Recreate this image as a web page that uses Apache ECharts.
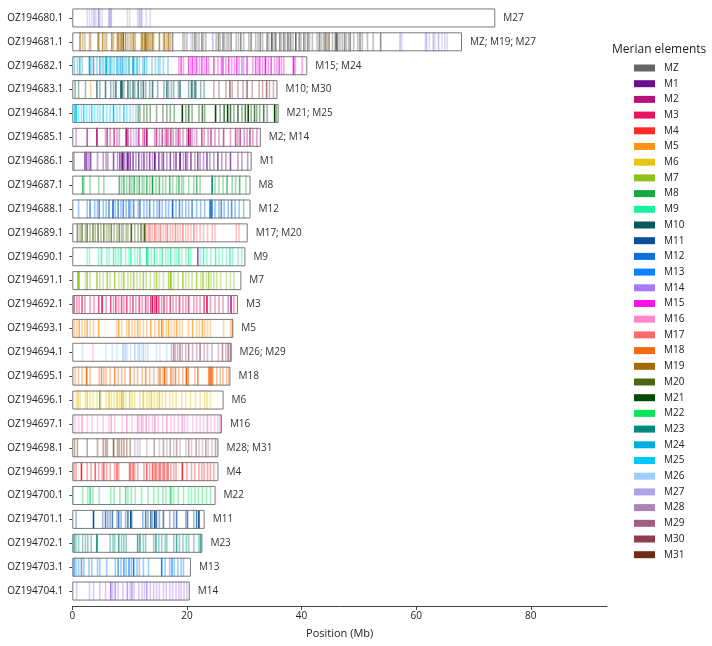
<!DOCTYPE html>
<html>
<head>
<meta charset="utf-8" />
<title>Merian elements</title>
<script src="https://cdn.jsdelivr.net/npm/echarts@6/dist/echarts.min.js"></script>
<style>
  html, body { margin: 0; padding: 0; background: #fff; }
  #main { width: 712px; height: 646px; }
</style>
</head>
<body>
<div id="main"></div>
<script type="text/javascript">
// chromosomes, top to bottom
var chromNames = ['OZ194680.1','OZ194681.1','OZ194682.1','OZ194683.1','OZ194684.1','OZ194685.1',
  'OZ194686.1','OZ194687.1','OZ194688.1','OZ194689.1','OZ194690.1','OZ194691.1','OZ194692.1',
  'OZ194693.1','OZ194694.1','OZ194695.1','OZ194696.1','OZ194697.1','OZ194698.1','OZ194699.1',
  'OZ194700.1','OZ194701.1','OZ194702.1','OZ194703.1','OZ194704.1'];
var chromLengths = [73.8, 68.0, 41.0, 35.8, 36.0, 32.9, 31.3, 31.1, 31.1, 30.6, 30.2, 29.5, 28.9,
  28.1, 27.8, 27.6, 26.4, 26.1, 25.5, 25.5, 25.0, 23.1, 22.7, 20.7, 20.5];
var chromLabels = ['M27','MZ; M19; M27','M15; M24','M10; M30','M21; M25','M2; M14','M1','M8','M12',
  'M17; M20','M9','M7','M3','M5','M26; M29','M18','M6','M16','M28; M31','M4','M22','M11','M23','M13','M14'];

var elements = ['MZ','M1','M2','M3','M4','M5','M6','M7','M8','M9','M10','M11','M12','M13','M14','M15',
  'M16','M17','M18','M19','M20','M21','M22','M23','M24','M25','M26','M27','M28','M29','M30','M31'];
var elementColors = ['#666666','#6a0f8e','#b5127e','#e6135f','#ff2a2a','#ff9419','#e6c619','#8ec21a',
  '#16a940','#1af2a0','#07595e','#0b4f99','#0d6ee0','#0f80ff','#a778f7','#fd12e7','#ff88cc','#ff6b6b',
  '#f46a12','#a26b05','#4e6611','#054a03','#0de25c','#008a7e','#00aee0','#00c8ff','#a0cdff','#a9a5e7',
  '#ab84b7','#a05f82','#8e3d4b','#6e2e16'];

// gene positions (Mb) with a shade level 1..3, per chromosome and element
var OZ194680_1 = [
  ['M27', [[2.6,1],[3.0,1],[3.4,1],[3.8,2],[4.1,1],[4.6,3],[4.8,1],[5.2,1],[6.4,2],[6.6,2],[6.8,2],
    [9.6,1],[10.0,1],[11.4,1],[11.7,2],[12.0,2],[12.2,1],[12.9,1],[13.6,1]]]
];
var OZ194681_1 = [
  ['M19', [[1.35,2],[1.8,1],[2.2,1],[3.0,1],[3.2,1],[4.5,2],[4.7,1],[5.3,2],[5.7,1],[6.0,1],[6.9,2],
    [7.2,1],[7.8,1],[8.0,2],[8.2,1],[8.5,2],[8.7,1],[8.9,3],[9.3,2],[9.7,1],[10.1,1],[10.4,1],[10.7,2],
    [11.0,1],[12.0,1],[12.2,2],[12.4,1],[12.7,3],[12.9,2],[13.2,2],[13.5,1],[13.7,1],[14.0,2],[14.2,1],
    [15.2,2],[15.9,1],[16.1,2],[16.5,1],[16.8,2],[17.1,1],[44.3,1]]],
  ['MZ', [[17.5,2],[19.3,1],[19.6,1],[20.0,1],[21.0,1],[21.4,2],[21.7,1],[22.1,1],[22.6,2],[22.9,1],
    [23.3,1],[25.1,1],[25.5,2],[25.8,1],[26.3,2],[26.6,1],[27.0,1],[27.3,1],[27.7,2],[28.6,1],[29.0,1],
    [29.4,2],[29.9,1],[30.8,1],[31.2,2],[32.0,1],[32.4,1],[32.8,2],[33.2,1],[34.0,2],[34.3,1],[34.8,3],
    [35.0,1],[35.4,2],[35.6,1],[36.2,2],[36.5,1],[36.9,2],[37.2,1],[37.6,2],[37.8,1],[38.1,2],[38.5,1],
    [39.0,3],[39.6,2],[39.9,1],[40.4,2],[40.7,1],[41.1,2],[41.4,1],[41.9,1],[42.7,1],[43.1,2],[43.4,1],
    [43.8,1],[44.1,2],[44.5,1],[44.8,2],[45.4,1],[45.9,2],[46.1,3],[46.3,2],[46.7,1],[47.1,1],[47.5,2],
    [47.8,1],[48.2,1],[48.5,2],[49.1,1],[49.8,1],[50.2,2],[50.6,1],[51.5,1],[52.5,1],[53.8,2]]],
  ['M27', [[20.7,1],[24.5,2],[57.2,2],[57.5,1],[61.6,1],[61.8,2],[62.3,1],[63.0,2],[63.3,1],[63.9,2],
    [64.5,1],[65.0,1],[65.4,1]]]
];
var OZ194682_1 = [
  ['M24', [[0.4,1],[0.9,1],[1.3,2],[1.7,1],[3.0,3],[3.3,1],[4.3,1],[4.8,2],[5.2,1],[5.5,1],[5.9,3],
    [6.2,1],[6.6,2],[6.9,1],[7.3,1],[7.8,2],[8.1,1],[8.5,1],[8.8,2],[9.2,1],[9.5,1],[9.9,2],[10.6,3],
    [10.9,1],[11.3,2],[11.7,1],[12.3,1],[12.6,2],[13.0,1],[13.9,1],[14.5,1],[15.0,1],[15.3,1],[15.9,1],[16.7,1]]],
  ['M13', [[3.7,2],[8.4,1]]],
  ['M15', [[18.6,1],[19.0,2],[19.4,1],[20.3,2],[20.7,1],[21.0,2],[21.4,1],[21.7,2],[22.2,1],[22.6,2],
    [23.0,1],[23.4,2],[23.8,1],[24.7,2],[25.4,1],[26.0,1],[26.3,2],[26.8,1],[27.3,2],[27.8,1],[28.3,1],
    [28.7,2],[29.1,1],[29.9,1],[30.5,2],[31.5,1],[32.0,2],[32.4,1],[32.7,2],[33.2,1],[33.7,3],[34.2,1],
    [34.7,2],[35.3,1],[35.7,1],[36.1,2],[36.5,1],[36.9,1],[38.6,3],[38.9,1],[40.1,1]]],
  ['M14', [[29.6,2],[26.1,1]]]
];
var OZ194683_1 = [
  ['M10', [[1.1,1],[2.3,1],[4.3,2],[4.8,1],[5.8,2],[6.7,1],[7.2,1],[7.6,2],[8.5,3],[8.7,2],[9.0,1],
    [9.7,2],[10.1,1],[10.6,2],[10.9,1],[11.5,2],[12.0,1],[12.4,2],[12.8,1],[13.5,1],[14.0,2],[14.9,1],
    [16.0,1],[16.5,2],[16.8,1],[17.3,1],[17.7,1],[18.5,1],[18.8,2],[20.3,1],[20.8,2],[21.0,1],[21.4,2],
    [21.6,1],[22.4,1],[23.0,1]]],
  ['M21', [[0.5,1]]],
  ['M5', [[3.2,1]]],
  ['M30', [[24.7,1],[25.6,1],[26.8,1],[27.5,2],[27.9,1],[28.9,1],[29.8,1],[30.5,2],[31.4,1],[32.6,1],
    [33.2,1],[33.9,2],[34.4,1],[35.1,1]]]
];
var OZ194684_1 = [
  ['M25', [[0.4,2],[0.65,3],[1.1,1],[1.6,1],[2.0,2],[2.5,1],[3.0,1],[3.4,2],[3.9,1],[4.4,1],[4.8,1],
    [5.4,2],[6.0,1],[6.6,1],[7.2,3],[7.8,1],[8.3,1],[9.0,2],[9.5,1],[10.1,1],[11.1,1]]],
  ['M16', [[10.6,1]]],
  ['M21', [[11.5,1],[11.8,1],[12.5,1],[13.0,1],[13.6,1],[14.7,1],[15.8,1],[16.5,1],[17.1,1],[17.8,1],
    [19.2,3],[19.8,1],[20.3,2],[20.9,1],[22.1,1],[22.7,2],[23.1,1],[25.0,3],[25.8,1],[26.5,2],[27.1,3],
    [27.6,2],[28.2,1],[28.9,2],[29.6,1],[30.2,2],[30.7,3],[31.2,1],[31.8,2],[32.2,1],[32.7,1],[33.4,2],
    [34.0,1],[35.3,3],[35.6,1]]]
];
var OZ194685_1 = [
  ['M2', [[0.65,1],[2.6,2],[4.3,3],[5.8,1],[6.1,2],[6.6,1],[7.3,2],[7.8,1],[8.2,1],[9.4,3],[9.7,2],
    [10.2,1],[11.6,2],[12.3,1],[12.6,2],[13.0,3],[14.4,1],[14.7,2],[15.2,1],[15.7,2],[16.2,1],[16.5,2],
    [16.8,1],[17.2,2],[17.6,1],[18.1,1],[18.5,2],[18.8,1],[19.3,1],[20.0,1],[20.3,3],[20.6,2],[20.9,1],
    [21.7,1],[22.6,2],[23.0,1],[23.7,1],[24.2,2],[24.9,1],[25.6,1],[26.4,2],[27.6,1],[28.5,2],[28.9,1],
    [29.3,2],[30.0,1],[30.5,1],[31.0,2],[31.5,1],[32.2,1]]],
  ['M14', [[10.7,1],[11.1,1],[11.3,1],[21.3,1]]]
];
var OZ194686_1 = [
  ['M1', [[0.3,1],[2.2,2],[2.5,2],[2.9,1],[3.2,2],[4.4,1],[5.4,1],[5.9,1],[6.2,1],[7.2,2],[7.9,1],
    [8.3,2],[8.7,3],[9.0,2],[9.4,1],[9.7,3],[10.1,2],[10.6,2],[11.1,1],[11.6,2],[12.1,1],[12.5,2],
    [13.0,1],[13.5,2],[14.0,1],[14.4,3],[15.1,2],[15.6,1],[15.9,2],[16.5,1],[17.1,2],[17.7,1],[18.1,2],
    [18.8,3],[19.4,1],[19.8,2],[20.1,1],[20.7,2],[21.4,1],[21.9,2],[22.3,1],[22.9,1],[23.5,2],[24.0,1],
    [24.7,1],[25.4,2],[26.1,1],[26.8,1],[27.6,2],[28.9,1],[29.6,1],[30.6,1]]]
];
var OZ194687_1 = [
  ['M8', [[1.8,2],[2.0,1],[3.1,1],[4.6,1],[5.5,1],[8.2,2],[8.6,1],[9.0,2],[9.5,1],[10.0,2],[10.4,1],
    [10.8,2],[11.3,1],[11.7,2],[12.2,1],[12.5,1],[13.0,2],[13.5,1],[14.0,3],[14.6,1],[15.2,2],[15.8,1],
    [16.3,1],[17.0,2],[17.5,1],[18.2,1],[18.6,2],[19.1,1],[19.4,1],[20.3,1],[21.2,1],[21.7,2],[22.3,1],
    [24.9,1],[25.6,1],[26.3,1],[27.0,2],[27.9,1],[28.5,1],[29.2,2],[30.3,1]]],
  ['M23', [[24.4,3]]]
];
var OZ194688_1 = [
  ['M12', [[1.1,1],[2.6,1],[3.1,2],[3.9,1],[4.4,1],[4.7,2],[5.4,1],[5.9,1],[6.4,2],[7.1,3],[7.5,1],
    [8.0,2],[8.5,1],[8.9,2],[9.4,1],[9.9,2],[10.2,1],[10.7,2],[11.5,1],[11.8,2],[12.5,1],[13.0,1],
    [13.5,2],[14.2,1],[14.8,1],[15.2,2],[15.7,1],[16.3,1],[16.8,1],[17.5,3],[18.1,1],[18.7,2],[19.2,1],
    [19.8,1],[20.3,1],[20.9,2],[21.7,1],[22.4,1],[23.1,1],[24.0,2],[24.2,3],[24.4,2],[24.9,1],[25.6,1],
    [26.0,2],[26.5,1],[27.2,1],[27.8,2],[28.4,1],[29.1,1],[29.9,1]]]
];
var OZ194689_1 = [
  ['M20', [[0.9,2],[1.35,1],[1.7,2],[2.3,1],[2.6,2],[3.1,1],[3.6,2],[4.0,1],[4.5,2],[5.0,1],[5.5,2],
    [6.0,1],[6.4,1],[6.8,2],[7.3,1],[7.8,1],[8.2,2],[8.6,1],[8.9,1],[9.4,1],[9.7,1],[10.3,3],[10.9,1],
    [11.5,1],[12.0,2],[12.4,1],[12.65,3]]],
  ['M17', [[13.0,1],[13.4,2],[13.7,1],[14.0,1],[14.4,2],[14.7,1],[15.1,1],[15.4,2],[15.9,1],[16.3,1],
    [16.6,2],[17.1,1],[17.5,1],[18.0,2],[18.4,1],[18.8,1],[19.3,2],[19.8,1],[20.2,1],[20.7,1],[21.2,2],
    [21.7,1],[22.3,1],[22.9,1],[23.6,1],[24.4,1],[24.9,1],[28.6,1],[29.1,1]]]
];
var OZ194690_1 = [
  ['M9', [[2.6,1],[3.0,1],[4.6,1],[5.1,2],[6.0,1],[6.4,1],[7.2,2],[7.6,1],[8.0,1],[8.5,2],[9.3,1],
    [9.9,1],[10.2,2],[10.9,1],[11.4,1],[11.8,2],[13.0,3],[13.2,2],[13.8,1],[14.3,2],[14.8,1],[15.3,1],
    [15.7,2],[16.3,1],[16.7,1],[17.2,2],[17.9,1],[18.2,1],[18.6,2],[19.1,1],[19.8,1],[20.3,2],[20.7,1],
    [22.3,1],[22.9,2],[23.5,1],[24.2,1],[25.0,2],[25.6,1],[26.2,1],[26.9,1],[27.5,2],[28.0,1],[28.9,1],[29.6,1]]],
  ['M1', [[21.9,2]]]
];
var OZ194691_1 = [
  ['M7', [[1.0,3],[1.2,2],[2.3,1],[2.6,2],[3.1,1],[4.3,2],[4.8,1],[5.4,1],[6.1,2],[6.6,1],[7.4,2],
    [8.1,1],[8.6,1],[9.0,2],[9.7,1],[10.2,1],[10.7,2],[11.3,1],[11.8,1],[12.4,2],[12.9,1],[13.6,1],
    [14.3,1],[14.7,2],[15.2,1],[15.9,1],[16.8,2],[17.2,3],[17.7,1],[18.5,1],[19.3,2],[19.8,1],[20.3,1],
    [20.9,1],[21.7,2],[22.4,1],[22.8,2],[23.4,1],[23.8,2],[24.2,1],[24.7,1],[25.2,1],[25.9,1],[26.9,1],
    [27.6,1],[28.2,1]]]
];
var OZ194692_1 = [
  ['M3', [[0.3,2],[0.8,1],[1.2,1],[1.7,2],[2.2,1],[3.1,1],[3.8,1],[4.6,2],[5.2,3],[5.9,1],[6.7,2],
    [7.2,1],[7.6,2],[8.1,1],[8.6,2],[9.0,1],[9.5,2],[10.1,1],[10.6,2],[11.1,1],[11.7,2],[12.2,1],[12.8,2],
    [13.2,1],[13.7,2],[14.0,3],[14.4,2],[14.7,3],[15.1,2],[15.6,1],[16.0,2],[16.5,1],[17.1,2],[17.6,1],
    [18.1,1],[18.7,2],[19.3,1],[19.8,1],[20.3,2],[21.2,1],[21.7,1],[22.3,1],[23.0,2],[23.5,3],[24.1,1],
    [24.9,1],[25.6,1],[26.3,1],[27.7,3],[28.2,1]]],
  ['M14', [[27.2,2]]]
];
var OZ194693_1 = [
  ['M5', [[0.4,1],[0.8,1],[1.2,2],[1.7,1],[2.2,1],[2.6,2],[3.1,1],[3.7,1],[4.6,2],[7.8,1],[8.1,2],
    [8.6,1],[9.5,1],[9.9,2],[10.4,1],[10.9,1],[11.4,2],[11.8,1],[12.4,1],[13.0,1],[13.7,2],[14.4,1],
    [15.1,2],[15.6,3],[15.9,1],[16.4,1],[16.8,2],[17.3,1],[17.8,1],[18.2,2],[18.7,1],[19.2,1],[20.3,1],
    [21.0,2],[21.7,1],[22.2,1],[22.7,2],[23.1,1],[23.6,1],[24.1,1],[26.4,1],[27.6,1],[27.9,2]]]
];
var OZ194694_1 = [
  ['M26', [[1.8,1],[5.9,1],[7.0,1],[7.8,1],[8.8,2],[9.0,1],[9.3,2],[9.6,1],[10.2,1],[10.9,2],[11.4,1],
    [11.7,2],[12.1,1],[12.4,2],[12.8,1],[13.2,1],[14.7,1],[15.3,1],[16.5,1]]],
  ['M16', [[3.6,1]]],
  ['M29', [[17.3,1],[17.7,2],[18.0,1],[18.4,1],[18.8,2],[19.2,1],[19.8,1],[20.3,2],[21.0,1],[21.7,1],
    [22.3,2],[23.0,1],[23.6,1],[24.4,1],[25.5,1],[26.2,2],[26.8,1],[27.2,2],[27.6,2]]]
];
var OZ194695_1 = [
  ['M18', [[0.5,1],[1.1,1],[1.7,1],[2.5,3],[3.1,1],[4.7,1],[5.1,2],[5.5,1],[5.9,1],[6.6,1],[7.4,2],
    [8.0,1],[8.6,1],[9.2,1],[10.1,2],[10.8,1],[11.4,1],[12.2,1],[12.8,2],[13.5,1],[14.2,1],[15.0,1],
    [15.3,2],[15.8,1],[16.1,3],[16.5,1],[17.2,2],[17.6,1],[18.0,2],[18.6,1],[19.3,1],[19.9,3],[20.2,2],
    [21.4,1],[21.9,2],[23.8,2],[24.0,2],[24.2,3],[24.5,2],[25.2,1],[25.8,1],[26.3,1],[26.9,1],[27.3,1]]]
];
var OZ194696_1 = [
  ['M6', [[0.65,1],[1.0,2],[1.35,1],[2.3,1],[2.6,2],[3.1,1],[3.6,1],[4.3,1],[5.9,1],[6.4,2],[6.8,1],
    [7.3,1],[7.8,2],[8.2,1],[8.6,3],[8.9,2],[9.3,1],[10.0,2],[10.4,1],[10.9,1],[11.8,1],[12.4,2],[13.0,1],
    [13.4,1],[13.8,2],[14.3,1],[14.8,1],[15.2,2],[15.7,1],[16.3,1],[17.0,1],[17.5,1],[18.1,1],[19.1,1],
    [19.8,1],[20.6,1],[21.5,1],[22.3,1],[23.1,1],[23.5,1],[24.1,1]]],
  ['M7', [[4.8,3]]]
];
var OZ194697_1 = [
  ['M16', [[0.5,1],[1.1,1],[1.7,2],[2.6,1],[3.4,1],[4.4,1],[5.4,1],[6.4,1],[6.8,2],[7.4,1],[8.7,1],
    [9.5,2],[10.4,1],[11.4,2],[11.7,1],[12.1,2],[12.4,1],[12.9,2],[13.4,1],[14.0,1],[14.4,2],[15.0,1],
    [15.8,1],[16.5,2],[17.2,1],[17.8,1],[18.5,1],[19.2,2],[19.6,1],[20.1,1],[21.0,1],[21.7,1],[22.3,1],
    [22.9,1],[23.6,2],[24.2,1],[24.8,1],[25.4,1],[25.8,2]]]
];
var OZ194698_1 = [
  ['M31', [[0.4,1],[0.9,1],[2.6,1],[4.4,1],[5.4,1],[5.8,1],[6.1,1],[7.2,2],[7.9,1],[8.2,1],[8.6,1],
    [9.0,1],[9.5,1],[10.1,1],[14.3,1],[15.9,1],[17.1,1],[18.2,1],[20.3,1],[21.6,1],[23.3,1],[25.0,1]]],
  ['M28', [[10.9,1],[11.4,1],[11.8,1],[13.0,1],[15.2,1],[16.5,1],[17.7,1],[18.8,1],[19.8,1],[20.8,1],
    [22.1,1],[22.7,1],[23.7,1],[24.4,1]]]
];
var OZ194699_1 = [
  ['M4', [[0.3,1],[0.65,1],[1.6,3],[2.6,1],[3.3,1],[4.0,2],[4.6,1],[5.2,1],[5.5,2],[6.0,1],[6.6,1],
    [7.4,1],[7.8,2],[8.1,1],[10.0,2],[10.2,1],[10.6,2],[10.9,1],[11.4,1],[12.5,1],[13.0,2],[13.5,1],
    [14.0,2],[14.3,1],[14.6,2],[15.0,1],[15.3,2],[15.7,1],[16.0,2],[16.4,1],[16.7,2],[17.2,1],[17.7,1],
    [18.1,1],[19.2,3],[20.0,1],[20.8,1],[21.4,1],[22.1,1],[22.6,1],[23.0,1],[23.6,1],[24.1,1],[24.7,1]]]
];
var OZ194700_1 = [
  ['M25', [[0.1,1]]],
  ['M22', [[1.8,1],[2.7,1],[3.1,2],[3.6,1],[4.7,1],[6.7,1],[7.3,1],[8.3,1],[9.3,2],[9.7,1],[10.3,1],
    [11.0,1],[12.1,1],[13.2,1],[14.2,1],[15.0,1],[15.8,1],[16.3,1],[17.1,2],[17.3,1],[17.7,1],[18.5,1],
    [19.4,1],[20.3,1],[20.8,1],[21.4,1],[22.0,1],[22.7,1],[23.4,1],[24.1,1]]]
];
var OZ194701_1 = [
  ['M11', [[0.65,1],[3.7,3],[5.3,1],[5.8,2],[6.2,1],[6.6,1],[7.0,2],[7.8,1],[8.1,2],[8.5,1],[9.3,1],
    [9.7,2],[10.2,3],[10.4,1],[12.3,1],[12.8,2],[13.2,1],[13.7,2],[14.0,1],[14.4,3],[14.7,2],[15.2,1],
    [15.9,2],[17.0,1],[17.7,1],[18.2,2],[19.8,1],[20.1,2],[21.2,1],[21.7,2],[22.1,3]]]
];
var OZ194702_1 = [
  ['M23', [[0.3,2],[0.65,1],[1.1,1],[1.8,1],[2.3,1],[2.7,1],[3.3,1],[4.3,3],[6.6,1],[7.1,1],[7.4,1],
    [8.1,2],[8.6,1],[9.0,1],[9.4,1],[11.4,2],[11.8,2],[12.4,1],[12.8,1],[14.2,1],[14.6,2],[15.1,1],
    [15.6,1],[16.2,1],[16.5,1],[17.7,1],[18.2,2],[18.7,1],[19.3,1],[19.9,1],[20.3,1],[21.2,1],[22.1,1],[22.4,2]]]
];
var OZ194703_1 = [
  ['M13', [[0.3,2],[0.65,1],[1.1,1],[1.6,2],[2.0,1],[2.9,1],[3.4,1],[4.4,1],[4.8,1],[6.0,1],[7.5,1],
    [8.0,2],[8.5,1],[9.0,2],[9.4,1],[9.9,2],[10.3,1],[10.7,3],[11.3,1],[11.7,1],[12.4,1],[13.3,1],
    [15.6,3],[16.2,1],[17.0,1],[17.4,2],[17.8,1],[18.4,1],[19.0,1],[19.4,1]]]
];
var OZ194704_1 = [
  ['M14', [[0.75,1],[3.0,1],[3.7,1],[4.8,1],[5.8,1],[6.7,3],[7.05,1],[7.5,2],[8.0,1],[8.8,1],[9.6,2],
    [10.1,1],[10.4,2],[10.8,1],[11.6,1],[12.2,1],[12.6,1],[13.0,2],[13.6,1],[14.2,1],[14.7,1],[15.2,1],
    [15.9,1],[16.4,1],[17.0,1],[17.5,1],[18.1,1],[18.6,1],[19.0,1],[19.5,1],[20.0,1]]]
];

var genesByChrom = [OZ194680_1, OZ194681_1, OZ194682_1, OZ194683_1, OZ194684_1, OZ194685_1,
  OZ194686_1, OZ194687_1, OZ194688_1, OZ194689_1, OZ194690_1, OZ194691_1, OZ194692_1, OZ194693_1,
  OZ194694_1, OZ194695_1, OZ194696_1, OZ194697_1, OZ194698_1, OZ194699_1, OZ194700_1, OZ194701_1,
  OZ194702_1, OZ194703_1, OZ194704_1];

var shadeOpacity = [0, 0.4, 0.7, 1];

// group the ticks by element so every element is one series (and one legend entry)
var byElement = {};
elements.forEach(function (e) { byElement[e] = []; });
genesByChrom.forEach(function (groups, row) {
  groups.forEach(function (g) {
    g[1].forEach(function (p) {
      byElement[g[0]].push({ value: [p[0], row], itemStyle: { opacity: shadeOpacity[p[1]] } });
    });
  });
});

var myChart = echarts.init(document.getElementById('main'));
var font = 'Open Sans';

var series = [
  {
    name: 'chrom',
    type: 'bar',
    data: chromLengths,
    barWidth: 19,
    itemStyle: { color: '#fff' },
    z: 1,
    silent: true
  }
];
elements.forEach(function (e, i) {
  series.push({
    name: e,
    type: 'scatter',
    data: byElement[e],
    symbol: 'rect',
    symbolSize: [1.6, 19],
    itemStyle: { color: elementColors[i], opacity: 1 },
    z: 2,
    silent: true
  });
});
series.push({
  name: 'outline',
  type: 'bar',
  data: chromLengths,
  barWidth: 19,
  barGap: '-100%',
  itemStyle: { color: 'rgba(0,0,0,0)', borderColor: '#7a7a7a', borderWidth: 1 },
  label: {
    show: true,
    position: 'right',
    distance: 8,
    fontFamily: font,
    fontSize: 10,
    color: '#333',
    formatter: function (p) { return chromLabels[p.dataIndex]; }
  },
  z: 3,
  silent: true
});

var option = {
  animation: false,
  textStyle: { fontFamily: font },
  title: {
    text: 'Merian elements',
    left: 612,
    top: 44,
    padding: 0,
    textStyle: { fontFamily: font, fontSize: 12, fontWeight: 'normal', color: '#222' }
  },
  legend: {
    data: elements,
    orient: 'vertical',
    left: 634,
    top: 61,
    padding: 0,
    icon: 'rect',
    itemWidth: 21,
    itemHeight: 7,
    itemGap: 1.7,
    itemStyle: { opacity: 1 },
    textStyle: { fontFamily: font, fontSize: 10, color: '#222', lineHeight: 14, padding: [0, 0, 0, 4] },
    selectedMode: false
  },
  grid: { left: 72.3, right: 105, top: 6, bottom: 43 },
  xAxis: {
    type: 'value',
    min: 0,
    max: 93.3,
    interval: 20,
    offset: 3,
    name: 'Position (Mb)',
    nameLocation: 'middle',
    nameGap: 22,
    nameTextStyle: { fontFamily: font, fontSize: 11, color: '#222' },
    axisLine: { show: true, lineStyle: { color: '#444' } },
    axisTick: { show: true, length: 4, lineStyle: { color: '#444' } },
    axisLabel: { fontFamily: font, fontSize: 10, color: '#222', margin: 5, showMaxLabel: false },
    splitLine: { show: false }
  },
  yAxis: {
    type: 'category',
    data: chromNames,
    inverse: true,
    offset: 2,
    axisLine: { show: false },
    axisTick: { show: true, length: 3, alignWithLabel: true, lineStyle: { color: '#444' } },
    axisLabel: { fontFamily: font, fontSize: 10, color: '#222', margin: 7 },
    splitLine: { show: false }
  },
  series: series
};

myChart.setOption(option);
</script>
</body>
</html>
